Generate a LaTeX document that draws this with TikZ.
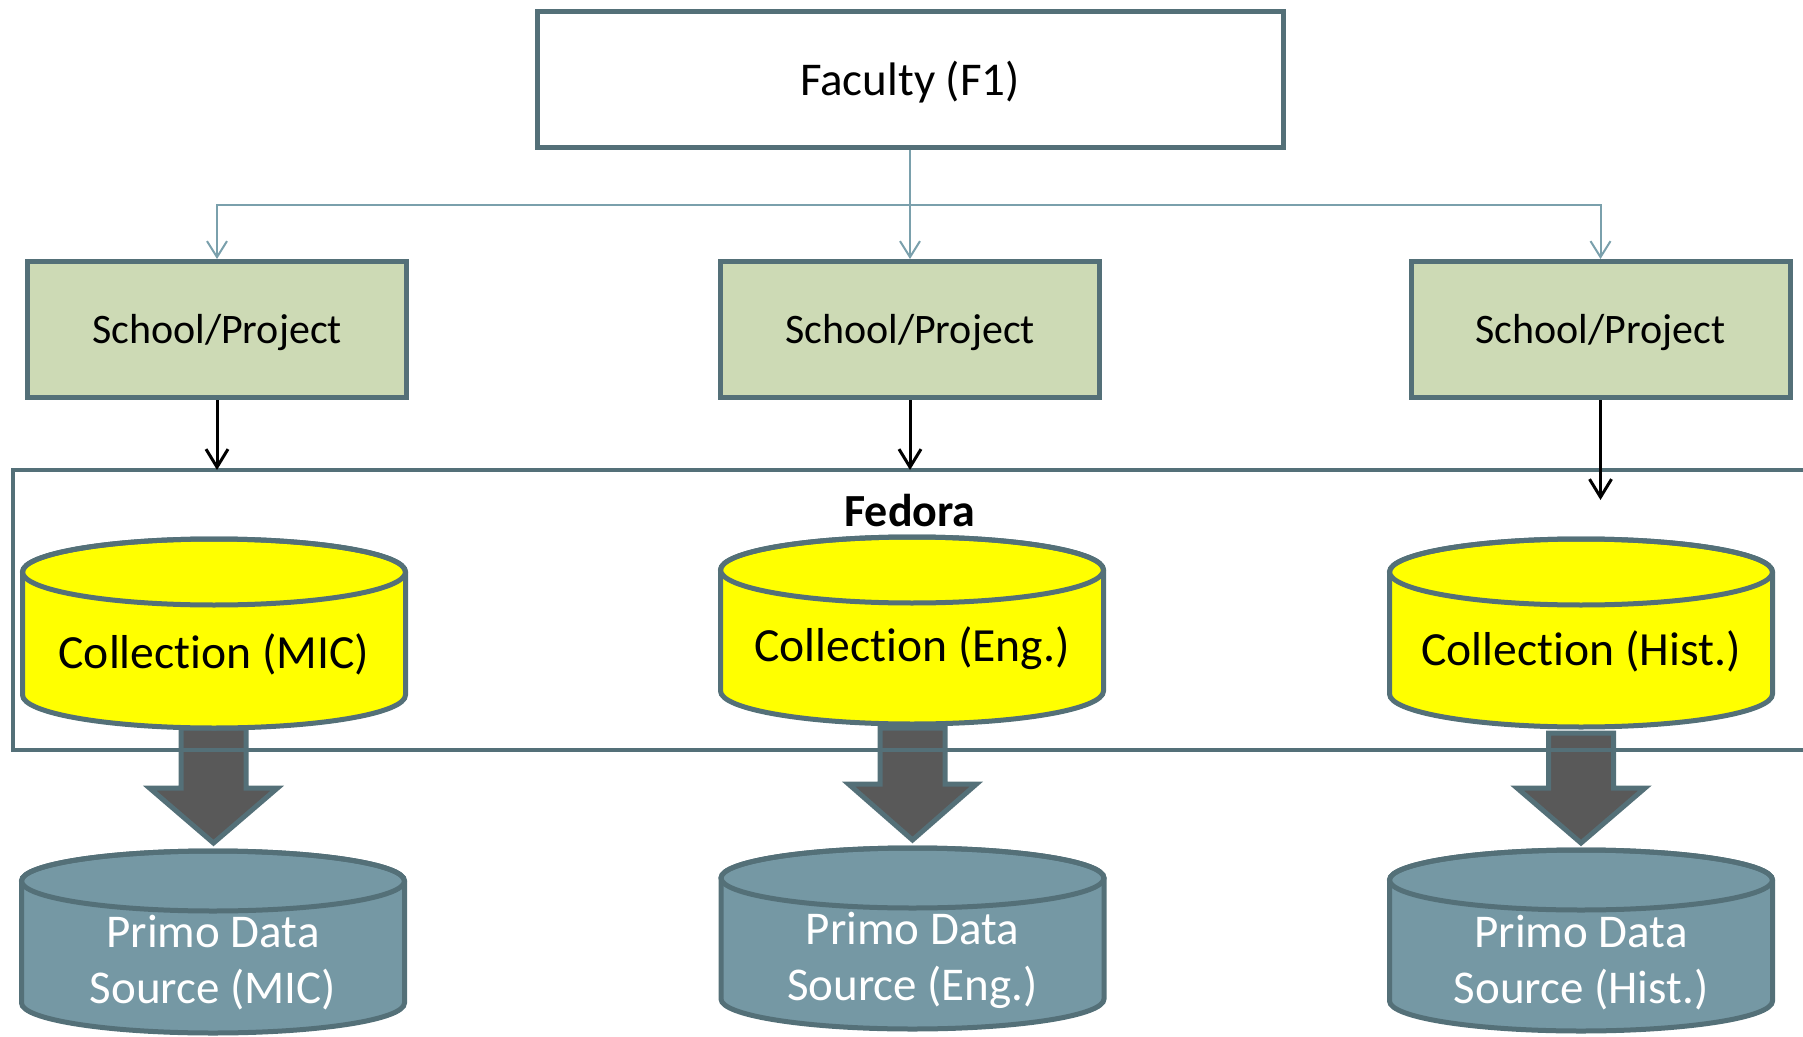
\documentclass[tikz,border=0pt]{standalone}
\usepackage{fontspec}
\setmainfont{Carlito}[Ligatures=NoCommon]
\usetikzlibrary{arrows.meta}

\definecolor{slate}{RGB}{84,112,120}
\definecolor{linkblue}{RGB}{122,160,172}
\definecolor{sage}{RGB}{205,218,181}
\definecolor{primo}{RGB}{117,152,164}
\definecolor{shaftgrey}{RGB}{89,89,89}
\definecolor{collyellow}{RGB}{255,255,0}

\tikzset{
  facbox/.style={draw=slate, line width=2.5pt, fill=white, inner sep=0pt,
    minimum width=373pt, minimum height=68pt, text height=20pt, text depth=4.4pt,
    font=\fontsize{23.5}{28}\selectfont},
  schoolbox/.style={draw=slate, line width=2.5pt, fill=sage, inner sep=0pt,
    minimum width=189.5pt, minimum height=68pt, text height=18pt, text depth=4pt,
    font=\fontsize{21}{25}\selectfont},
  link/.style={draw=linkblue, line width=1pt, -{Straight Barb[length=8pt,width=10pt]}},
  pass/.style={draw=black, line width=1.5pt, -{Straight Barb[length=9pt,width=11pt]}},
  frame/.style={draw=slate, line width=2pt},
  cylline/.style={draw=slate, line width=2.5pt},
  bigarrow/.style={draw=slate, line width=2.5pt, fill=shaftgrey, line join=miter},
  colltext/.style={inner sep=0pt, font=\fontsize{23.8}{28}\selectfont},
  primotext/.style={inner sep=0pt, align=center, text=white, font=\fontsize{23.5}{28}\selectfont}
}

\begin{document}
\begin{tikzpicture}[x=0.5pt,y=-0.5pt]
  \useasboundingbox (0,0) rectangle (1803,1037);
  \clip (0,0) rectangle (1803,1037);

  % faculty and schools
  \node[facbox] (fac) at (910,79.5) {Faculty (F1)};
  \node[schoolbox] (s1) at (217,329.5) {School/Project};
  \node[schoolbox] (s2) at (910,329.5) {School/Project};
  \node[schoolbox] (s3) at (1600.5,329.5) {School/Project};

  \coordinate (bus) at (910,205);
  \draw[draw=linkblue, line width=1pt] (fac.south) -- (bus);
  \draw[link] (bus) -| (s1.north);
  \draw[link] (bus) -- (s2.north);
  \draw[link] (bus) -| (s3.north);

  % block arrows down to primo
  \foreach \cx/\ytop/\yhead/\ytip in {213.5/728/788/843, 912.5/728/784/840, 1581/733/788/843}
    \draw[bigarrow] (\cx-32.5,\ytop) -- (\cx-32.5,\yhead) -- (\cx-64,\yhead) -- (\cx,\ytip)
      -- (\cx+64,\yhead) -- (\cx+32.5,\yhead) -- (\cx+32.5,\ytop) -- cycle;

  % fedora
  \coordinate (ftop) at (13,470);
  \draw[frame] (ftop) rectangle (1840,750);
  \node[font=\bfseries\fontsize{23}{28}\selectfont] (fedora) at (910,511) {Fedora};

  \draw[pass] (s1.south) -- (s1.south |- ftop);
  \draw[pass] (s2.south) -- (s2.south |- ftop);
  \coordinate (hend) at (1600.5,500);
  \draw[pass] (s3.south) -- (hend);

  % collections
  \foreach \i/\cx/\ytop/\ybot/\ytext/\lbl in {1/214/539/728/654/MIC, 2/912/537/724/648/Eng., 3/1581/539/727/651/Hist.} {
    \draw[cylline, fill=collyellow] (\cx-191.5,\ytop+33) -- (\cx-191.5,\ybot-33)
      arc[start angle=180, end angle=0, x radius=191.5, y radius=33]
      -- (\cx+191.5,\ytop+33)
      arc[start angle=0, end angle=-180, x radius=191.5, y radius=33] -- cycle;
    \draw[cylline] (\cx,\ytop+33) ellipse[x radius=191.5, y radius=33];
    \node[colltext] (coll\i) at (\cx,\ytext) {Collection (\lbl)};
  }

  % primo data sources
  \foreach \i/\cx/\ytop/\ybot/\ytext/\lbl in {1/213/851/1033/963/MIC, 2/912.5/848/1029/960/Eng., 3/1581/850/1031/963/Hist.} {
    \draw[cylline, fill=primo] (\cx-191.5,\ytop+30) -- (\cx-191.5,\ybot-30)
      arc[start angle=180, end angle=0, x radius=191.5, y radius=30]
      -- (\cx+191.5,\ytop+30)
      arc[start angle=0, end angle=-180, x radius=191.5, y radius=30] -- cycle;
    \draw[cylline] (\cx,\ytop+30) ellipse[x radius=191.5, y radius=30];
    \node[primotext] (prim\i) at (\cx,\ytext) {Primo Data\\Source (\lbl)};
  }
\end{tikzpicture}
\end{document}
